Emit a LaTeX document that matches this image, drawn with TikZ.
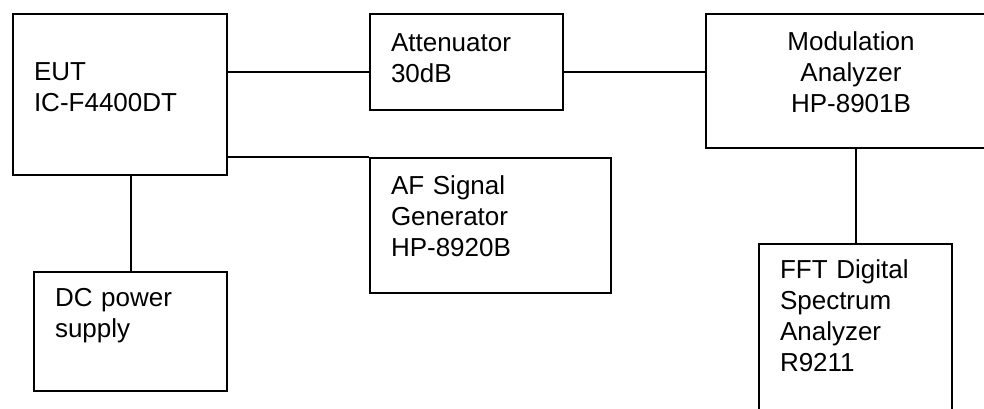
\documentclass[tikz,border=0pt]{standalone}
\usepackage{fontspec}
\setmainfont{Liberation Sans}

\begin{document}
\begin{tikzpicture}[x = 0.5pt, y = -0.5pt,
	box/.style = {draw, line width = 1pt, anchor = north west, inner xsep = 10.5pt, inner ysep = 0pt, align = left, font = \fontsize{13}{15.5}\selectfont},
	wire/.style = {line width = 1pt}]

	% Page frame (boxes on the right run off the page)
	
	\useasboundingbox (0, 0) rectangle (984, 408);
	\clip (0, 0) rectangle (984, 408);
	
	% Height of the upper leads
	
	\coordinate (top lead) at (0, 72);
	
	% Instruments
	
	\node [box, text width = 86pt, text height = 33pt, text depth = 47.5pt] (eut) at (12, 13) {EUT\\IC-F4400DT};
	\node [box, text width = 75.5pt, text height = 18.5pt, text depth = 29.5pt] (att) at (369, 13) {Attenuator\\30dB};
	\node [box, align = center, text width = 124pt, text height = 18pt, text depth = 49pt] (mod) at (705, 13) {Modulation\\Analyzer\\HP-8901B};
	\node [box, text width = 99.5pt, text height = 18pt, text depth = 49.5pt] (af) at (369, 157) {AF Signal\\Generator\\HP-8920B};
	\node [box, text width = 75.5pt, text height = 17pt, text depth = 42.5pt] (dc) at (33, 271) {DC power\\supply};
	\node [box, text width = 75.5pt, text height = 17pt, text depth = 71.5pt] (fft) at (758, 243) {FFT Digital\\Spectrum\\Analyzer\\R9211};
	
	% Leads between them
	
	\draw [wire] (eut.east |- top lead) -- (att.west |- top lead);
	\draw [wire] (att.east |- top lead) -- (mod.west |- top lead);
	\draw [wire] (eut.east |- af.north west) -- (af.north west);
	\draw [wire] (dc.north) -- (dc.north |- eut.south);
	\draw [wire] (fft.north) -- (fft.north |- mod.south);
		
\end{tikzpicture}
\end{document}
